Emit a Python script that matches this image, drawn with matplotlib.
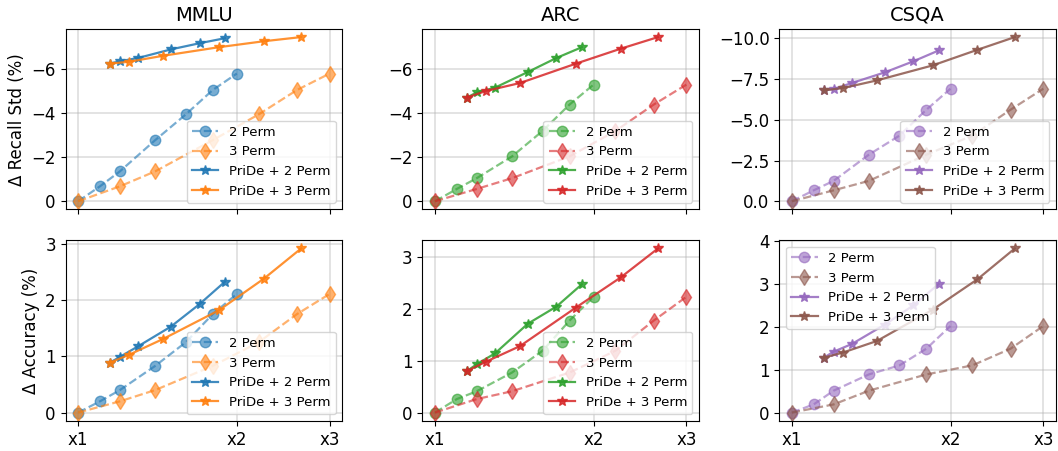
import numpy as np
import matplotlib
matplotlib.use("Agg")
import matplotlib.pyplot as plt

# cost ratio (x) for each method
x_2perm = [1.0, 1.1, 1.2, 1.4, 1.6, 1.8, 2.0]
x_3perm = [1.0, 1.2, 1.4, 1.8, 2.2, 2.6, 3.0]
x_pride2 = [1.15, 1.2, 1.3, 1.5, 1.7, 1.9]
x_pride3 = [1.15, 1.25, 1.45, 1.85, 2.25, 2.65]

datasets = ["MMLU", "ARC", "CSQA"]
labels = ["2 Perm", "3 Perm", "PriDe + 2 Perm", "PriDe + 3 Perm"]

# delta recall std (%), perm baselines share the same y values
mmlu_std_perm = [0, -0.68, -1.36, -2.78, -3.95, -5.06, -5.81]
mmlu_std_pride2 = [-6.26, -6.37, -6.52, -6.91, -7.19, -7.42]
mmlu_std_pride3 = [-6.26, -6.35, -6.62, -7.01, -7.28, -7.47]
arc_std_perm = [0, -0.56, -1.05, -2.04, -3.2, -4.4, -5.31]
arc_std_pride2 = [-4.72, -4.95, -5.17, -5.88, -6.52, -7.01]
arc_std_pride3 = [-4.72, -5.02, -5.38, -6.26, -6.94, -7.47]
csqa_std_perm = [0, -0.67, -1.25, -2.86, -4.03, -5.62, -6.91]
csqa_std_pride2 = [-6.81, -6.89, -7.26, -7.91, -8.59, -9.26]
csqa_std_pride3 = [-6.81, -6.95, -7.42, -8.34, -9.3, -10.08]

# delta accuracy (%)
mmlu_acc_perm = [0, 0.2, 0.4, 0.83, 1.25, 1.75, 2.11]
mmlu_acc_pride2 = [0.89, 0.99, 1.18, 1.53, 1.93, 2.33]
mmlu_acc_pride3 = [0.89, 1.03, 1.31, 1.82, 2.38, 2.92]
arc_acc_perm = [0, 0.26, 0.41, 0.77, 1.19, 1.77, 2.23]
arc_acc_pride2 = [0.8, 0.93, 1.14, 1.71, 2.04, 2.47]
arc_acc_pride3 = [0.8, 0.98, 1.28, 2.02, 2.6, 3.16]
csqa_acc_perm = [0, 0.19, 0.51, 0.89, 1.1, 1.49, 2.02]
csqa_acc_pride2 = [1.28, 1.42, 1.6, 2.05, 2.5, 3.0]
csqa_acc_pride3 = [1.28, 1.4, 1.67, 2.4, 3.11, 3.83]

std_data = [
    (mmlu_std_perm, mmlu_std_pride2, mmlu_std_pride3),
    (arc_std_perm, arc_std_pride2, arc_std_pride3),
    (csqa_std_perm, csqa_std_pride2, csqa_std_pride3),
]
acc_data = [
    (mmlu_acc_perm, mmlu_acc_pride2, mmlu_acc_pride3),
    (arc_acc_perm, arc_acc_pride2, arc_acc_pride3),
    (csqa_acc_perm, csqa_acc_pride2, csqa_acc_pride3),
]
colors = [("C0", "C1"), ("C2", "C3"), ("C4", "C5")]
legend_locs = [["lower right", "lower right"], ["lower right", "lower right"],
               ["lower right", "upper left"]]

fig, axes = plt.subplots(2, 3, figsize=(10.58, 4.51), dpi=100)
fig.subplots_adjust(left=0.062, right=0.998, top=0.936, bottom=0.067,
                    wspace=0.29, hspace=0.17)

for col in range(3):
    c2, c3 = colors[col]
    for row, data in enumerate([std_data, acc_data]):
        ax = axes[row, col]
        perm, pride2, pride3 = data[col]
        ax.plot(x_2perm, perm, "--o", color=c2, alpha=0.6, lw=1.6, ms=7.5, label=labels[0])
        ax.plot(x_3perm, perm, "--d", color=c3, alpha=0.6, lw=1.6, ms=7.8, label=labels[1])
        ax.plot(x_pride2, pride2, "-*", color=c2, alpha=0.85, lw=1.6, ms=7.5, label=labels[2])
        ax.plot(x_pride3, pride3, "-*", color=c3, alpha=0.85, lw=1.6, ms=7.5, label=labels[3])
        ax.set_xscale("log")
        ax.set_xticks([1, 2, 3])
        ax.minorticks_off()
        if row == 1:
            ax.set_xticklabels(["x1", "x2", "x3"])
        else:
            ax.set_xticklabels([])
            ax.invert_yaxis()
            ax.set_title(datasets[col], fontsize=14)
        ax.tick_params(labelsize=12)
        ax.grid(True, alpha=0.45, lw=1.1)
        ax.legend(loc=legend_locs[col][row], fontsize=9.5)

axes[0, 2].set_yticks([0, -2.5, -5, -7.5, -10])
axes[0, 0].set_ylabel("Δ Recall Std (%)", fontsize=12)
axes[1, 0].set_ylabel("Δ Accuracy (%)", fontsize=12)

plt.savefig("out.png", dpi=100)
